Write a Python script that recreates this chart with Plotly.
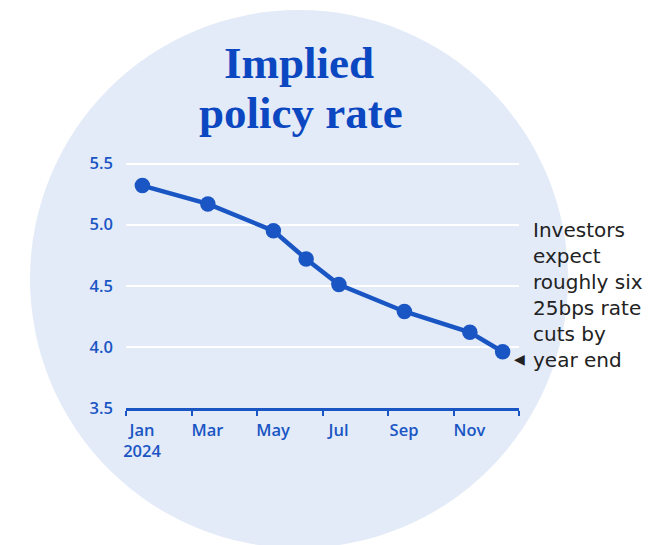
import plotly.graph_objects as go

# ---------------- data ----------------
month_order = ["Jan", "Feb", "Mar", "Apr", "May", "Jun",
               "Jul", "Aug", "Sep", "Oct", "Nov", "Dec"]
obs_months = ["Jan", "Mar", "May", "Jun", "Jul", "Sep", "Nov", "Dec"]
implied_rate = [5.32, 5.17, 4.95, 4.72, 4.51, 4.29, 4.12, 3.96]
tick_labels = ["Jan<br>2024", "Mar", "May", "Jul", "Sep", "Nov", ""]
y_ticks = [3.5, 4.0, 4.5, 5.0, 5.5]
title_lines = ["Implied", "policy rate"]
note_text = "Investors<br>expect<br>roughly six<br>25bps rate<br>cuts by<br>year end"

# ---------------- layout constants ----------------
W, H = 654, 545
ML, MR, MT, MB = 126, 135, 160, 137
PW, PH = W - ML - MR, H - MT - MB
PX_PER_UNIT = 122.2          # vertical pixels per 1.0 of rate
Y_MIN = min(y_ticks)
Y_MAX = Y_MIN + PH / PX_PER_UNIT

def px_x(p):
    return (p - ML) / PW

def px_y(p):
    return (H - MB - p) / PH

BLUE = "#1a55c4"
TITLE_BLUE = "#0b47c1"
CIRCLE = "#e3ebf8"
TEXT = "#222222"
TICK_FONT = dict(family="Open Sans", size=16.5, color=BLUE, weight=600)

x_idx = [month_order.index(m) for m in obs_months]
tick_pos = [month_order.index(m) - 0.5 for m in month_order[::2]] + [len(month_order) - 0.5]

fig = go.Figure()
fig.add_trace(go.Scatter(
    x=x_idx, y=implied_rate, mode="lines+markers",
    line=dict(color=BLUE, width=4.5),
    marker=dict(color=BLUE, size=15.5),
    cliponaxis=False, hoverinfo="skip", showlegend=False,
))

# background circle
cx, cy, r = 299, 279, 269
fig.add_shape(type="circle", xref="paper", yref="paper",
              x0=px_x(cx - r), x1=px_x(cx + r),
              y0=px_y(cy + r), y1=px_y(cy - r),
              fillcolor=CIRCLE, line=dict(width=0), layer="below")

# title
fig.add_annotation(text=title_lines[0], xref="paper", yref="paper",
                   x=px_x(298.5), y=px_y(63), xanchor="center", yanchor="middle",
                   showarrow=False,
                   font=dict(family="Liberation Serif", size=45, color=TITLE_BLUE, weight="bold"))
fig.add_annotation(text=title_lines[1], xref="paper", yref="paper",
                   x=px_x(301), y=px_y(113), xanchor="center", yanchor="middle",
                   showarrow=False,
                   font=dict(family="Liberation Serif", size=45, color=TITLE_BLUE, weight="bold"))

# side note
fig.add_annotation(text=note_text, xref="paper", yref="paper",
                   x=px_x(531), y=px_y(294.5), xanchor="left", yanchor="middle",
                   align="left", showarrow=False,
                   font=dict(family="DejaVu Sans", size=20, color=TEXT))
fig.add_annotation(text="◀", xref="paper", yref="paper",
                   x=px_x(519.5), y=px_y(359), xanchor="center", yanchor="middle",
                   showarrow=False,
                   font=dict(family="DejaVu Sans", size=14, color=TEXT))

fig.update_layout(
    width=W, height=H,
    margin=dict(l=ML, r=MR, t=MT, b=MB),
    paper_bgcolor="white", plot_bgcolor="rgba(0,0,0,0)",
    font=dict(family="Open Sans", color=BLUE),
    xaxis=dict(
        range=[-0.5, len(month_order) - 0.5],
        tickmode="array", tickvals=tick_pos, ticktext=tick_labels,
        ticklabelshift=16,
        showgrid=False, zeroline=False,
        showline=True, linecolor=BLUE, linewidth=2.5,
        ticks="outside", ticklen=5, tickwidth=2, tickcolor=BLUE,
        tickfont=TICK_FONT,
        fixedrange=True,
    ),
    yaxis=dict(
        range=[Y_MIN, Y_MAX],
        tickmode="array", tickvals=y_ticks,
        ticktext=[f"{v:.1f}" for v in y_ticks],
        showgrid=True, gridcolor="white", gridwidth=2,
        zeroline=False, showline=False, ticks="",
        ticklabelstandoff=12,
        tickfont=TICK_FONT,
        fixedrange=True,
    ),
)

fig.write_html("out.html", config={"displayModeBar": False},
               post_script="document.body.style.margin='0';")
